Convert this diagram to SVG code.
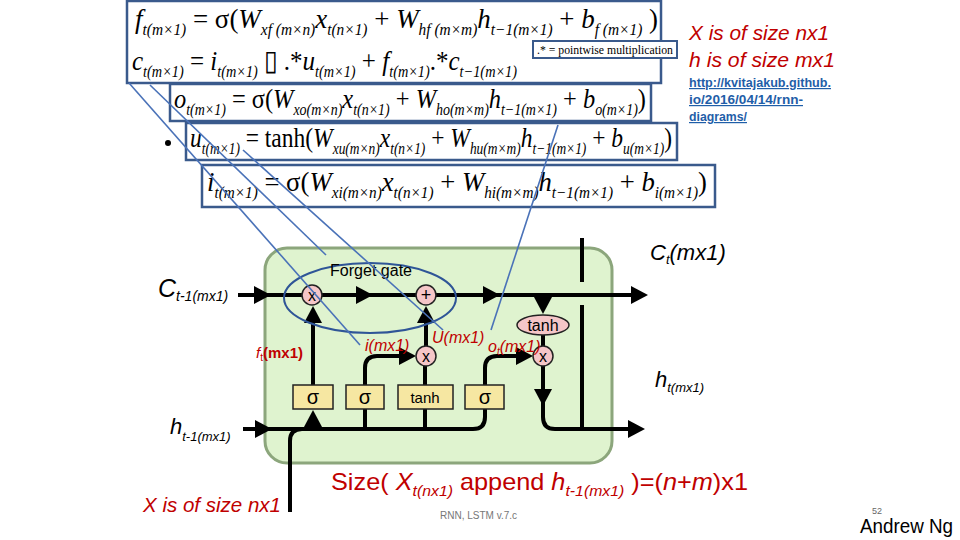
<svg xmlns="http://www.w3.org/2000/svg" xmlns:xlink="http://www.w3.org/1999/xlink" width="960" height="540" viewBox="0 0 960 540">
<style>
.eq{font-family:"Liberation Serif","Times New Roman",serif;font-size:28px;fill:#000}
.eq .i{font-style:italic}
.eq .s{font-size:16px;font-style:italic}
.ebox{fill:none;stroke:#3a5a8c;stroke-width:2.5}
.blue{stroke:#4a72b8;stroke-width:1.6;fill:none}
.wire{stroke:#000;stroke-width:4;fill:none}
.op{fill:#f5c6c8;stroke:#222;stroke-width:1.5}
.gate{fill:#f6e7a2;stroke:#222;stroke-width:1.5}
.cal{font-family:"Liberation Sans","Open Sans",sans-serif}
.red{fill:#c00000}
.lbl{font-family:"Liberation Sans","Open Sans",sans-serif;font-style:italic;fill:#000}
.url{font-family:"Liberation Sans",sans-serif;font-weight:bold;font-size:12px;fill:#1f5ea8;text-decoration:underline}
</style>
<defs>
<path id="ah" d="M0,0 L-17,-9 L-17,9 Z" fill="#000"/>
</defs>

<g id="equations">
<g id="eq-f-c">
<rect class="ebox" x="127" y="1" width="534" height="82"/>
<text class="eq" x="135" y="28" textLength="523" lengthAdjust="spacingAndGlyphs"><tspan class="i">f</tspan><tspan class="s" dy="7">t(m×1)</tspan><tspan dy="-7"> = σ(</tspan><tspan class="i">W</tspan><tspan class="s" dy="7">xf (m×n)</tspan><tspan class="i" dy="-7">x</tspan><tspan class="s" dy="7">t(n×1)</tspan><tspan dy="-7"> + </tspan><tspan class="i">W</tspan><tspan class="s" dy="7">hf (m×m)</tspan><tspan class="i" dy="-7">h</tspan><tspan class="s" dy="7">t−1(m×1)</tspan><tspan dy="-7"> + </tspan><tspan class="i">b</tspan><tspan class="s" dy="7">f (m×1)</tspan><tspan dy="-7"> )</tspan></text>
<text class="eq" x="132" y="70" textLength="385" lengthAdjust="spacingAndGlyphs"><tspan class="i">c</tspan><tspan class="s" dy="7">t(m×1)</tspan><tspan dy="-7"> = </tspan><tspan class="i">i</tspan><tspan class="s" dy="7">t(m×1)</tspan><tspan dy="-7"> ▯ .*</tspan><tspan class="i">u</tspan><tspan class="s" dy="7">t(m×1)</tspan><tspan dy="-7"> + </tspan><tspan class="i">f</tspan><tspan class="s" dy="7">t(m×1)</tspan><tspan dy="-7">.*</tspan><tspan class="i">c</tspan><tspan class="s" dy="7">t−1(m×1)</tspan></text>
</g>
<g id="pointwise-note">
<rect x="533" y="41" width="144" height="17" fill="#fff" stroke="#3a5a8c" stroke-width="2"/>
<text x="537" y="53.5" font-family="Liberation Serif,serif" font-size="11.5" textLength="136" lengthAdjust="spacingAndGlyphs">.* = pointwise multiplication</text>
</g>
<g id="eq-o">
<rect class="ebox" x="170" y="84" width="481" height="37"/>
<text class="eq" x="174" y="108" textLength="472" lengthAdjust="spacingAndGlyphs"><tspan class="i">o</tspan><tspan class="s" dy="7">t(m×1)</tspan><tspan dy="-7"> = σ(</tspan><tspan class="i">W</tspan><tspan class="s" dy="7">xo(m×n)</tspan><tspan class="i" dy="-7">x</tspan><tspan class="s" dy="7">t(n×1)</tspan><tspan dy="-7"> + </tspan><tspan class="i">W</tspan><tspan class="s" dy="7">ho(m×m)</tspan><tspan class="i" dy="-7">h</tspan><tspan class="s" dy="7">t−1(m×1)</tspan><tspan dy="-7"> + </tspan><tspan class="i">b</tspan><tspan class="s" dy="7">o(m×1)</tspan><tspan dy="-7">)</tspan></text>
</g>
<g id="eq-u">
<circle cx="168" cy="143" r="3" fill="#000"/>
<rect class="ebox" x="186" y="123" width="491" height="37"/>
<text class="eq" x="190" y="147" textLength="482" lengthAdjust="spacingAndGlyphs"><tspan class="i">u</tspan><tspan class="s" dy="7">t(m×1)</tspan><tspan dy="-7"> = tanh(</tspan><tspan class="i">W</tspan><tspan class="s" dy="7">xu(m×n)</tspan><tspan class="i" dy="-7">x</tspan><tspan class="s" dy="7">t(n×1)</tspan><tspan dy="-7"> + </tspan><tspan class="i">W</tspan><tspan class="s" dy="7">hu(m×m)</tspan><tspan class="i" dy="-7">h</tspan><tspan class="s" dy="7">t−1(m×1)</tspan><tspan dy="-7"> + </tspan><tspan class="i">b</tspan><tspan class="s" dy="7">u(m×1)</tspan><tspan dy="-7">)</tspan></text>
</g>
<g id="eq-i">
<rect class="ebox" x="202" y="165" width="513" height="42"/>
<text class="eq" x="207" y="191" textLength="500" lengthAdjust="spacingAndGlyphs"><tspan class="i">i</tspan><tspan class="s" dy="7">t(m×1)</tspan><tspan dy="-7"> = σ(</tspan><tspan class="i">W</tspan><tspan class="s" dy="7">xi(m×n)</tspan><tspan class="i" dy="-7">x</tspan><tspan class="s" dy="7">t(n×1)</tspan><tspan dy="-7"> + </tspan><tspan class="i">W</tspan><tspan class="s" dy="7">hi(m×m)</tspan><tspan class="i" dy="-7">h</tspan><tspan class="s" dy="7">t−1(m×1)</tspan><tspan dy="-7"> + </tspan><tspan class="i">b</tspan><tspan class="s" dy="7">i(m×1)</tspan><tspan dy="-7">)</tspan></text>
</g>
</g>

<g id="notes">
<text class="cal red" x="689" y="40" font-size="21" font-style="italic" textLength="140" lengthAdjust="spacingAndGlyphs">X is of size nx1</text>
<text class="cal red" x="689" y="67" font-size="21" font-style="italic" textLength="146" lengthAdjust="spacingAndGlyphs">h is of size mx1</text>
<text class="url" x="689" y="87" textLength="142" lengthAdjust="spacingAndGlyphs">http://kvitajakub.github.</text>
<text class="url" x="689" y="104" textLength="114" lengthAdjust="spacingAndGlyphs">io/2016/04/14/rnn-</text>
<text class="url" x="689" y="121" textLength="58" lengthAdjust="spacingAndGlyphs">diagrams/</text>
</g>

<g id="cell">
<rect x="265" y="248" width="347" height="215" rx="22" fill="#dff3cf" stroke="#8ca67c" stroke-width="3"/>
</g>

<g id="connectors">
<path class="wire" d="M238,295 H632"/>
<path class="wire" d="M543,295 V300"/>
<path class="wire" d="M543,335 V346"/>
<path class="wire" d="M543,366 V417 Q543,429 555,429 H630"/>
<path class="wire" d="M582,429 V305 M582,282 V238"/>
<path class="wire" d="M243,429 H473 Q485,429 485,417 V409"/>
<path class="wire" d="M290,512 V441 Q290,429 302,429"/>
<path class="wire" d="M313,385 V318"/>
<path class="wire" d="M365,385 V368 Q365,356 377,356 H404"/>
<path class="wire" d="M485,385 V368 Q485,356 497,356 H520"/>
<path class="wire" d="M425,385 V366"/>
<path class="wire" d="M426,346 V318"/>
<path class="wire" d="M365,409 V429 M425,409 V429"/>
<use xlink:href="#ah" transform="translate(271,295)"/>
<use xlink:href="#ah" transform="translate(373,295)"/>
<use xlink:href="#ah" transform="translate(500,295)"/>
<use xlink:href="#ah" transform="translate(648,295)"/>
<use xlink:href="#ah" transform="translate(543,314) rotate(90)"/>
<use xlink:href="#ah" transform="translate(313,306) rotate(-90)"/>
<use xlink:href="#ah" transform="translate(426,306) rotate(-90)"/>
<use xlink:href="#ah" transform="translate(416,356)"/>
<use xlink:href="#ah" transform="translate(533,356)"/>
<use xlink:href="#ah" transform="translate(543,406) rotate(90)"/>
<use xlink:href="#ah" transform="translate(272,429)"/>
<use xlink:href="#ah" transform="translate(313,410) rotate(-90)"/>
<use xlink:href="#ah" transform="translate(645,429)"/>
</g>

<g id="op-forget"><circle class="op" cx="312" cy="295" r="10"/><text x="312" y="301" class="cal" font-size="16" text-anchor="middle">x</text></g>
<g id="op-add"><circle class="op" cx="426" cy="295" r="10"/><text x="426" y="301" class="cal" font-size="18" text-anchor="middle">+</text></g>
<g id="op-input"><circle class="op" cx="426" cy="356" r="10"/><text x="426" y="362" class="cal" font-size="16" text-anchor="middle">x</text></g>
<g id="op-output"><circle class="op" cx="543" cy="356" r="10"/><text x="543" y="362" class="cal" font-size="16" text-anchor="middle">x</text></g>
<g id="tanh-cell"><ellipse class="op" cx="543" cy="325" rx="26" ry="10"/><text x="543" y="331" class="cal" font-size="16" text-anchor="middle">tanh</text></g>
<g id="gate-f"><rect class="gate" x="293" y="385" width="40" height="24"/><text x="313" y="404" class="cal" font-size="20" text-anchor="middle">σ</text></g>
<g id="gate-i"><rect class="gate" x="346" y="385" width="38" height="24"/><text x="365" y="404" class="cal" font-size="20" text-anchor="middle">σ</text></g>
<g id="gate-u"><rect class="gate" x="398" y="385" width="55" height="24"/><text x="425" y="403" class="cal" font-size="15" text-anchor="middle">tanh</text></g>
<g id="gate-o"><rect class="gate" x="465" y="385" width="39" height="24"/><text x="485" y="404" class="cal" font-size="20" text-anchor="middle">σ</text></g>

<g id="forget-gate">
<ellipse cx="370" cy="298" rx="86" ry="35" fill="none" stroke="#2f5597" stroke-width="2"/>
<text x="330" y="276" class="cal" font-size="16" textLength="82" lengthAdjust="spacingAndGlyphs">Forget gate</text>
</g>

<g id="pointers">
<path class="blue" d="M129,83 L360,345"/>
<path class="blue" d="M150,85 L326,255"/>
<path class="blue" d="M243,150 L443,330"/>
<path class="blue" d="M558,125 L491,330"/>
</g>

<g id="labels">
<text class="lbl" x="158" y="297" font-size="25">C<tspan font-size="14" dy="4">t-1(mx1)</tspan></text>
<text class="cal red" x="256" y="358" font-size="15"><tspan font-style="italic">f</tspan><tspan font-size="10" dy="3">t</tspan><tspan font-weight="bold" dy="-3">(mx1)</tspan></text>
<text class="cal red" x="365" y="351" font-size="16" font-style="italic">i(mx1)</text>
<text class="cal red" x="432" y="343" font-size="16" font-style="italic">U(mx1)</text>
<text class="cal red" x="488" y="352" font-size="16" font-style="italic">o<tspan font-size="10" dy="3">t</tspan><tspan dy="-3">(mx1)</tspan></text>
<text class="lbl" x="650" y="260" font-size="22">C<tspan font-size="13" dy="4">t</tspan><tspan dy="-4">(mx1)</tspan></text>
<text class="lbl" x="655" y="387" font-size="22">h<tspan font-size="13" dy="5">t(mx1)</tspan></text>
<text class="lbl" x="170" y="434" font-size="22">h<tspan font-size="13" dy="7">t-1(mx1)</tspan></text>
<text class="cal red" x="143" y="512" font-size="21" font-style="italic" textLength="138" lengthAdjust="spacingAndGlyphs">X is of size nx1</text>
<text class="cal red" x="331" y="490" font-size="24" textLength="417" lengthAdjust="spacingAndGlyphs">Size( <tspan font-style="italic">X</tspan><tspan font-style="italic" font-size="15" dy="6">t(nx1)</tspan><tspan dy="-6"> append </tspan><tspan font-style="italic">h</tspan><tspan font-style="italic" font-size="15" dy="6">t-1(mx1)</tspan><tspan dy="-6"> )=(</tspan><tspan font-style="italic">n</tspan>+<tspan font-style="italic">m</tspan>)x1</text>
<text class="cal" x="440" y="519" font-size="10" fill="#777">RNN, LSTM v.7.c</text>
<text class="cal" x="872" y="514" font-size="9" fill="#666">52</text>
<text class="cal" x="860" y="533" font-size="20" textLength="93" lengthAdjust="spacingAndGlyphs">Andrew Ng</text>
</g>
</svg>
